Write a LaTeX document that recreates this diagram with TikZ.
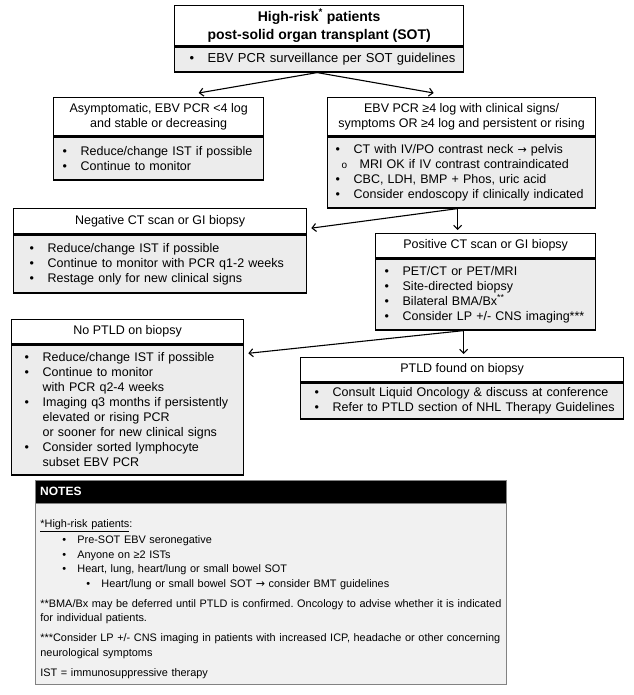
\documentclass[tikz,border=0pt]{standalone}
\usepackage{fontspec}
\setmainfont{Liberation Sans}
\newfontfamily\arrowfont{DejaVu Sans}
\usetikzlibrary{arrows.meta}
\frenchspacing

\definecolor{boxgray}{RGB}{236,236,236}
\definecolor{notegray}{RGB}{241,241,241}
\definecolor{noteline}{RGB}{130,130,130}

% Puces pour les listes dans les boîtes (une ligne = une boîte, sans coupure)
\newcommand{\bul}[1]{\mbox{\makebox[18pt][l]{\textbullet}#1}}
\newcommand{\cont}[1]{\mbox{\hspace*{18pt}#1}}
\newcommand{\subbul}[1]{\mbox{\hspace*{6pt}\makebox[18pt][l]{\fontsize{10}{10}\selectfont o}#1}}
\newcommand{\nbul}[2]{\mbox{\hspace*{#1}\makebox[15pt][l]{\textbullet}#2}}
\newcommand{\toarrow}{{\arrowfont\fontsize{11}{11}\selectfont →}}
\newcommand{\bodyfont}{\fontsize{12.5}{15}\selectfont}

\begin{document}
\begin{tikzpicture}[x=1pt,y=-1pt]
        % Styles pour les boîtes et les flèches
        \tikzstyle{headbox} = [draw, line width=1.3pt, fill=white, anchor=north west, inner sep=0pt, align=center, font=\bodyfont]
        \tikzstyle{listbox} = [draw, line width=1.3pt, fill=boxgray, anchor=north west, inner ysep=0pt, align=left, font=\bodyfont]
        \tikzstyle{flow} = [line width=1.1pt, -{Straight Barb[length=4pt,width=8pt]}]

        \useasboundingbox (0,0) rectangle (633,695);

        % Boîte du haut
        \node[headbox, minimum width=289pt, minimum height=40pt, font=\bfseries\fontsize{14}{18}\selectfont] (tophead) at (174,5)
            {High-risk\textsuperscript{*} patients\\post-solid organ transplant (SOT)};
        \node[listbox, minimum width=289pt, minimum height=25pt, inner xsep=15pt, text width=259pt, font=\fontsize{13}{15}\selectfont] (toplist) at (tophead.south west)
            {\bul{EBV PCR surveillance per SOT guidelines}};

        % Deuxième niveau : asymptomatique / EBV PCR >= 4 log
        \node[headbox, minimum width=210pt, minimum height=38pt] (asymhead) at (53,97)
            {Asymptomatic, EBV PCR <4 log\\and stable or decreasing};
        \node[listbox, minimum width=210pt, minimum height=43pt, inner xsep=9pt, text width=192pt] (asymlist) at (asymhead.south west)
            {\bul{Reduce/change IST if possible}\\\bul{Continue to monitor}};

        \node[headbox, minimum width=268pt, minimum height=38pt] (riskhead) at (327,97)
            {EBV PCR ≥4 log with clinical signs/\\symptoms OR ≥4 log and persistent or rising};
        \node[listbox, minimum width=268pt, minimum height=71pt, inner xsep=8pt, text width=252pt] (risklist) at (riskhead.south west)
            {\bul{CT with IV/PO contrast neck \toarrow{} pelvis}\\\subbul{MRI OK if IV contrast contraindicated}\\\bul{CBC, LDH, BMP + Phos, uric acid}\\\bul{Consider endoscopy if clinically indicated}};

        % Troisième niveau : scanner négatif / positif
        \node[headbox, minimum width=293pt, minimum height=25pt] (neghead) at (13,208)
            {Negative CT scan or GI biopsy};
        \node[listbox, minimum width=293pt, minimum height=58pt, inner xsep=16pt, text width=261pt] (neglist) at (neghead.south west)
            {\bul{Reduce/change IST if possible}\\\bul{Continue to monitor with PCR q1-2 weeks}\\\bul{Restage only for new clinical signs}};

        \node[headbox, minimum width=220pt, minimum height=24pt] (poshead) at (375,233)
            {Positive CT scan or GI biopsy};
        \node[listbox, minimum width=220pt, minimum height=71pt, inner xsep=9pt, text width=202pt] (poslist) at (poshead.south west)
            {\bul{PET/CT or PET/MRI}\\\bul{Site-directed biopsy}\\\bul{Bilateral BMA/Bx\textsuperscript{**}}\\\bul{Consider LP +/- CNS imaging***}};

        % Quatrième niveau : résultat de la biopsie
        \node[headbox, minimum width=232pt, minimum height=24pt] (nohead) at (11,319)
            {No PTLD on biopsy};
        \node[listbox, minimum width=232pt, minimum height=130pt, inner xsep=13pt, text width=206pt] (nolist) at (nohead.south west)
            {\bul{Reduce/change IST if possible}\\\bul{Continue to monitor}\\\cont{with PCR q2-4 weeks}\\\bul{Imaging q3 months if persistently}\\\cont{elevated or rising PCR}\\\cont{or sooner for new clinical signs}\\\bul{Consider sorted lymphocyte}\\\cont{subset EBV PCR}};

        \node[headbox, minimum width=323pt, minimum height=24pt] (ptldhead) at (300,357)
            {PTLD found on biopsy};
        \node[listbox, minimum width=323pt, minimum height=36pt, inner xsep=14pt, text width=295pt] (ptldlist) at (ptldhead.south west)
            {\bul{Consult Liquid Oncology \& discuss at conference}\\\bul{Refer to PTLD section of NHL Therapy Guidelines}};

        % Encadré des notes
        \node[draw=noteline, fill=black, text=white, anchor=north west, minimum width=471pt, minimum height=23pt, inner xsep=5pt, text width=461pt, align=left, font=\bfseries\fontsize{12}{14}\selectfont] (noteshead) at (35,480)
            {NOTES};
        \node[draw=noteline, fill=notegray, line width=0.8pt, anchor=north west, minimum width=471pt, minimum height=181pt, inner xsep=5pt, inner ysep=0pt, text width=461pt, align=left, font=\fontsize{10.9}{14.5}\selectfont] (notesbody) at (noteshead.south west)
            {\mbox{\rule{0pt}{18pt}\underline{*High-risk patients}:}\\[1.5pt]
             \nbul{22pt}{Pre-SOT EBV seronegative}\\
             \nbul{22pt}{Anyone on ≥2 ISTs}\\
             \nbul{22pt}{Heart, lung, heart/lung or small bowel SOT}\\
             \nbul{46pt}{Heart/lung or small bowel SOT \toarrow{} consider BMT guidelines}\\[5.5pt]
             \mbox{**BMA/Bx may be deferred until PTLD is confirmed. Oncology to advise whether it is indicated}\\
             \mbox{for individual patients.}\\[5.5pt]
             \mbox{***Consider LP +/- CNS imaging in patients with increased ICP, headache or other concerning}\\
             \mbox{neurological symptoms}\\[5.5pt]
             \mbox{IST = immunosuppressive therapy}};

        % Flèches entre les boîtes
        \coordinate (topsplit) at ([xshift=-2pt]toplist.south);
        \draw[flow] (topsplit) -- ([xshift=40pt,yshift=4pt]asymhead.north);
        \draw[flow] (topsplit) -- ([xshift=-28pt,yshift=4pt]riskhead.north);

        \coordinate (risksplit) at ([xshift=-4pt]risklist.south);
        \draw[flow] (risksplit) -- ([xshift=4pt,yshift=-7pt]neghead.east);
        \draw[flow, shorten >=3pt] (risksplit) -- (risksplit |- poshead.north);

        \coordinate (possplit) at ([xshift=-22pt]poslist.south);
        \draw[flow] (possplit) -- ([xshift=4pt,yshift=-9pt]nolist.north east);
        \draw[flow, shorten >=3pt] (possplit) -- (possplit |- ptldhead.north);
\end{tikzpicture}
\end{document}
